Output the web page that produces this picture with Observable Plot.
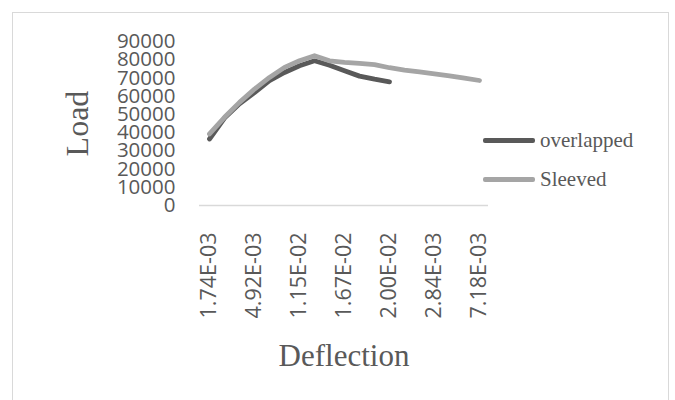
<!DOCTYPE html>
<html><head><meta charset="utf-8">
<script src="https://cdn.jsdelivr.net/npm/d3@7"></script>
<script src="https://cdn.jsdelivr.net/npm/@observablehq/plot@0.6"></script>
<style>
body{margin:0;background:#fff;}
#wrap{position:relative;width:675px;height:400px;overflow:hidden;background:#fff;}
#border{position:absolute;left:12px;top:12px;width:657px;height:430px;border:1.5px solid #d9d9d9;box-sizing:border-box;pointer-events:none;}
#chart{position:absolute;left:0;top:0;}
#legend{position:absolute;left:483px;top:121px;font-family:"Liberation Serif","Times New Roman",serif;font-size:21px;color:#595959;}
.row{display:flex;align-items:center;height:39px;}
.sw{width:52px;height:5px;margin-right:5px;border-radius:2px;}
</style></head><body>
<div id="wrap"><div id="chart"></div><div id="border"></div><div id="legend"></div></div>
<script>
// Categories (deflection), only every third one is labelled on the axis
const categories = ["1.74E-03","2.80E-03","3.86E-03","4.92E-03","6.97E-03","9.23E-03","1.15E-02","1.33E-02","1.50E-02","1.67E-02","1.78E-02","1.89E-02","2.00E-02","2.20E-02","2.50E-02","2.84E-03","4.20E-03","5.70E-03","7.18E-03"];
const tickLabels = ["1.74E-03","4.92E-03","1.15E-02","1.67E-02","2.00E-02","2.84E-03","7.18E-03"];
const yTicks = [0,10000,20000,30000,40000,50000,60000,70000,80000,90000];
const seriesNames = ["overlapped","Sleeved"];
const seriesColors = ["#595959","#a5a5a5"];
const overlapped = [36500,48000,55800,62000,68500,73000,76700,79400,77000,74000,71000,69300,67900];
const sleeved = [39300,48400,56600,63900,70300,75800,79400,82200,79400,78600,78000,77300,75600,74300,73300,72200,71200,69900,68600];

const rows = [];
overlapped.forEach((v,i)=>rows.push({series:seriesNames[0], cat:categories[i], load:v}));
sleeved.forEach((v,i)=>rows.push({series:seriesNames[1], cat:categories[i], load:v}));

const plot = Plot.plot({
  width:675, height:400,
  marginTop:41, marginBottom:195, marginLeft:199, marginRight:187,
  style:{fontFamily:"'Open Sans', sans-serif", color:"#595959", background:"transparent", overflow:"visible"},
  x:{type:"point", domain:categories, padding:0.5},
  y:{domain:[0,90000]},
  color:{domain:seriesNames, range:seriesColors},
  marks:[
    Plot.ruleY([0],{stroke:"#d9d9d9", strokeWidth:1.5}),
    Plot.axisY({ticks:yTicks, tickSize:0, tickPadding:24, fontSize:20.5, label:null, tickFormat:d3.format("d"), fill:"#595959"}),
    Plot.axisX({ticks:tickLabels, tickSize:0, tickRotate:-90, tickPadding:27, fontSize:21.5, label:null, fill:"#595959"}),
    Plot.line(rows, {x:"cat", y:"load", z:"series", stroke:"series", strokeWidth:4.8, strokeLinecap:"round", strokeLinejoin:"round"}),
    Plot.text(["Load"], {frameAnchor:"left", textAnchor:"middle", rotate:-90, dx:-122, fontFamily:"'Liberation Serif', serif", fontSize:32, fill:"#595959"}),
    Plot.text(["Deflection"], {frameAnchor:"bottom", lineAnchor:"bottom", dy:160, fontFamily:"'Liberation Serif', serif", fontSize:31, fill:"#595959"})
  ]
});
document.getElementById("chart").appendChild(plot);

const legend = document.getElementById("legend");
seriesNames.forEach((name,i)=>{
  const r = document.createElement("div");
  r.className = "row";
  const sw = document.createElement("div");
  sw.className = "sw";
  sw.style.background = seriesColors[i];
  const t = document.createElement("span");
  t.textContent = name;
  r.appendChild(sw); r.appendChild(t);
  legend.appendChild(r);
});
</script>
</body></html>
